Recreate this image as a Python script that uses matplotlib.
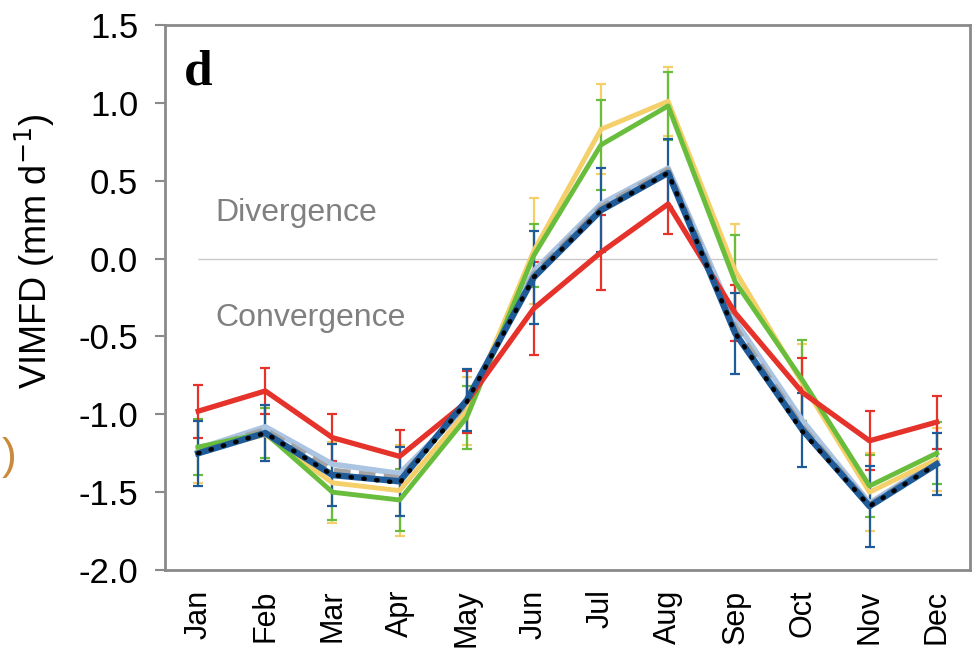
import matplotlib.pyplot as plt
import numpy as np

# --- Data -------------------------------------------------------------------
MONTHS = ["Jan", "Feb", "Mar", "Apr", "May", "Jun",
          "Jul", "Aug", "Sep", "Oct", "Nov", "Dec"]

red = [-0.98, -0.85, -1.15, -1.27, -0.92, -0.32, 0.04, 0.35, -0.35, -0.86, -1.17, -1.05]
red_err = [0.17, 0.15, 0.15, 0.17, 0.20, 0.30, 0.24, 0.19, 0.18, 0.22, 0.19, 0.17]

yellow = [-1.24, -1.13, -1.44, -1.49, -0.98, 0.05, 0.83, 1.01, -0.08, -0.80, -1.50, -1.29]
yellow_err = [0.20, 0.17, 0.26, 0.29, 0.22, 0.34, 0.29, 0.22, 0.30, 0.25, 0.25, 0.20]

green = [-1.21, -1.12, -1.50, -1.55, -1.02, 0.02, 0.73, 0.98, -0.15, -0.78, -1.46, -1.25]
green_err = [0.18, 0.16, 0.18, 0.20, 0.20, 0.20, 0.29, 0.22, 0.30, 0.26, 0.20, 0.20]

light_blue = [-1.22, -1.08, -1.32, -1.38, -0.95, -0.08, 0.35, 0.58, -0.40, -1.04, -1.57, -1.30]
gray_mean = [-1.23, -1.10, -1.36, -1.41, -0.93, -0.10, 0.33, 0.57, -0.44, -1.08, -1.58, -1.31]

dark_blue = [-1.25, -1.12, -1.39, -1.43, -0.91, -0.12, 0.31, 0.55, -0.48, -1.10, -1.59, -1.32]
dark_blue_err = [0.21, 0.18, 0.20, 0.22, 0.20, 0.30, 0.27, 0.22, 0.26, 0.24, 0.26, 0.20]

ensemble = [-1.25, -1.12, -1.39, -1.44, -0.92, -0.12, 0.31, 0.55, -0.48, -1.11, -1.59, -1.32]

# --- Style ------------------------------------------------------------------
plt.rcParams["font.family"] = ["Liberation Sans", "DejaVu Sans"]
FRAME = "#8a8a8a"
C_RED = "#e5322b"
C_YELLOW = "#f4cf6a"
C_GREEN = "#69bd3c"
C_LBLUE = "#aac4e2"
C_GRAY = "#a3a3a3"
C_DBLUE = "#1e5b98"

fig = plt.figure(figsize=(9.8, 6.56), dpi=100)
ax = fig.add_axes([0.168, 0.131, 0.822, 0.831])
x = np.arange(len(MONTHS))

# zero reference line
ax.hlines(0, x[0], x[-1], color="#c8c8c8", lw=1.0, zorder=1)

err_kw = dict(fmt="none", capsize=3.8, elinewidth=1.6, capthick=1.6, zorder=2)
ax.errorbar(x, yellow, yerr=yellow_err, ecolor=C_YELLOW, **err_kw)
ax.errorbar(x, green, yerr=green_err, ecolor=C_GREEN, **err_kw)
ax.errorbar(x, red, yerr=red_err, ecolor=C_RED, **err_kw)
ax.errorbar(x, dark_blue, yerr=dark_blue_err, ecolor=C_DBLUE, **err_kw)

ax.plot(x, light_blue, color=C_LBLUE, lw=4.0, zorder=3)
ax.plot(x, gray_mean, color=C_GRAY, lw=4.0, ls=(0, (3, 1.5)), zorder=3)
ax.plot(x, yellow, color=C_YELLOW, lw=3.5, zorder=4)
ax.plot(x, green, color=C_GREEN, lw=3.5, zorder=4)
ax.plot(x, red, color=C_RED, lw=3.8, zorder=5)
ax.plot(x, dark_blue, color=C_DBLUE, lw=4.6, zorder=6)
ax.plot(x, ensemble, color="black", lw=3.2, ls=(0, (0.3, 2.6)),
        dash_capstyle="round", zorder=7)

ax.set_xlim(-0.5, 11.5)
ax.set_ylim(-2.0, 1.5)
ax.set_yticks(np.arange(-2.0, 1.51, 0.5))
ax.set_yticklabels([f"{v:.1f}" for v in np.arange(-2.0, 1.51, 0.5)])
ax.set_xticks(x)
ax.set_xticklabels(MONTHS, rotation=90)

for side in ax.spines.values():
    side.set_color(FRAME)
    side.set_linewidth(2.0)
ax.tick_params(axis="y", length=7, width=1.5, color=FRAME, labelsize=25, pad=12)
ax.tick_params(axis="x", length=0, labelsize=22, pad=14)

ax.set_ylabel("VIMFD (mm d$^{-1}$)", fontsize=26)
ax.yaxis.set_label_coords(-0.134, 0.585)

ax.text(0.25, 0.29, "Divergence", color="#808080", fontsize=23,
        ha="left", va="center")
ax.text(0.25, -0.38, "Convergence", color="#808080", fontsize=23,
        ha="left", va="center")
ax.text(0.024, 0.955, "d", transform=ax.transAxes, fontsize=37,
        fontweight="bold", family="Liberation Serif", va="top", ha="left")

# stray bracket from the neighbouring panel
fig.text(0.002, 0.303, ")", color="#c98a3a", fontsize=32, ha="left", va="center")

fig.savefig("out.png", dpi=100)
